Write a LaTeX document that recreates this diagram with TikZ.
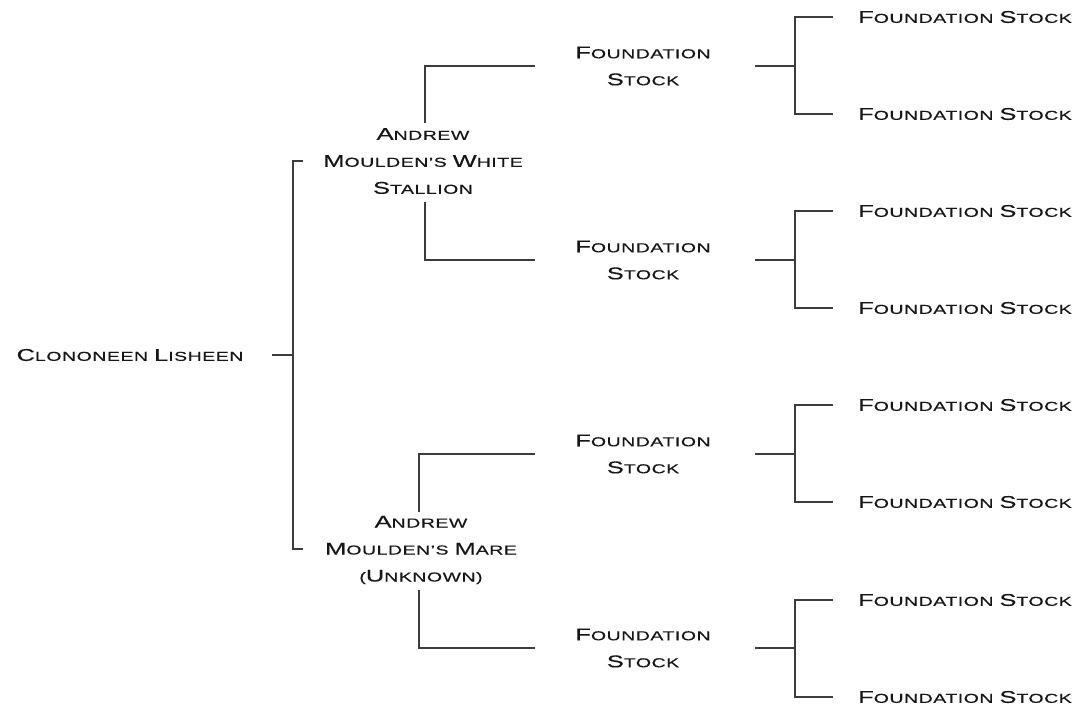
\documentclass[tikz,border=0pt]{standalone}
\usepackage{fontspec}
\setmainfont{Liberation Sans}[FakeStretch=1.5,LetterSpace=4,FakeBold=0.3]
\definecolor{txt}{HTML}{161616}
\definecolor{ln}{HTML}{3C3C3C}
\newcommand\BigC[1]{{\fontsize{17}{27}\selectfont #1}}
\begin{document}
\begin{tikzpicture}[x=1pt,y=-1pt,
  lbl/.style={text=txt,align=center,inner sep=0pt,font=\fontsize{13}{27}\selectfont},
  conn/.style={draw=ln,line width=1.2pt}]
\useasboundingbox (0,0) rectangle (1089,710);
% root
\node[lbl] (root) at (130,355) {\BigC{C}LONONEEN \BigC{L}ISHEEN};
% parents
\node[lbl] (sire) at (423,161) {\BigC{A}NDREW\\\BigC{M}OULDEN'S \BigC{W}HITE\\\BigC{S}TALLION};
\node[lbl] (dam) at (421,550) {\BigC{A}NDREW\\\BigC{M}OULDEN'S \BigC{M}ARE\\(\BigC{U}NKNOWN)};
% grandparents
\foreach \n/\y in {g1/66,g2/260,g3/454,g4/648}{
  \node[lbl] (\n) at (643,\y) {\BigC{F}OUNDATION\\\BigC{S}TOCK};
}
% great-grandparents
\foreach \n/\y in {h1/17,h2/114,h3/211,h4/308,h5/405,h6/502,h7/600,h8/697}{
  \node[lbl] (\n) at (965,\y) {\BigC{F}OUNDATION \BigC{S}TOCK};
}
% connector coordinates
\coordinate (r0) at (272,355);
\coordinate (rj) at (293,355);
\coordinate (rs) at (303,161);
\coordinate (rd) at (303,549);
\coordinate (s1) at (425,123);
\coordinate (s2) at (425,202);
\coordinate (d1) at (419,512);
\coordinate (d2) at (419,590);
\coordinate (g1i) at (535,66);
\coordinate (g2i) at (535,260);
\coordinate (g3i) at (535,454);
\coordinate (g4i) at (535,648);
\foreach \i/\y/\a/\b in {1/66/17/114,2/260/211/308,3/454/405/502,4/648/600/697}{
  \coordinate (g\i o) at (755,\y);
  \coordinate (g\i j) at (795,\y);
  \coordinate (g\i a) at (833,\a);
  \coordinate (g\i b) at (833,\b);
}
% root to parents
\draw[conn] (r0) -- (rj);
\draw[conn] (rs) -| (rj) |- (rd);
% parents to grandparents
\draw[conn] (s1) |- (g1i);
\draw[conn] (s2) |- (g2i);
\draw[conn] (d1) |- (g3i);
\draw[conn] (d2) |- (g4i);
% grandparents to great-grandparents
\foreach \i in {1,2,3,4}{
  \draw[conn] (g\i o) -- (g\i j);
  \draw[conn] (g\i a) -| (g\i j) |- (g\i b);
}
\end{tikzpicture}
\end{document}
